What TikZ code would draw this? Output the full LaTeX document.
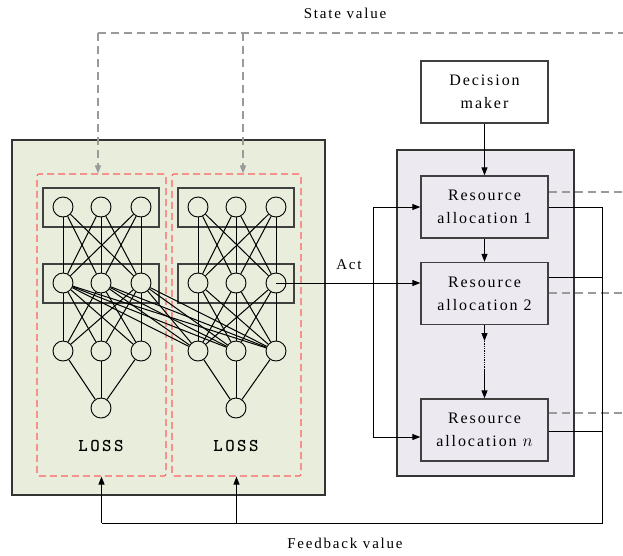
\documentclass[tikz,border=0pt]{standalone}
\usepackage{fontspec}
\setmainfont{Liberation Serif}[LetterSpace=12]
\newfontfamily\lossfont{lmmonolt10-bold}[Extension=.otf, LetterSpace=14]
\usepackage{tikz}
\usetikzlibrary{arrows, arrows.meta}

\definecolor{netgreen}{HTML}{E8EDDC}
\definecolor{allocpurple}{HTML}{ECE9F1}
\definecolor{lossred}{HTML}{FF6262}
\definecolor{stategray}{HTML}{9A9A9A}

\begin{document}
\begin{tikzpicture}[x=1pt, y=-1pt, >={Triangle[length=8pt, width=6pt]}]
\tikzstyle{neuron}=[circle, draw, minimum size=20pt, inner sep=0pt, line width=0.9pt]
\tikzstyle{layer}=[draw=black!75, line width=1.3pt]
\tikzstyle{panel}=[draw=black!80, line width=1.3pt]
\tikzstyle{frame}=[draw=lossred, dash pattern=on 7pt off 4pt, line width=1.1pt, rounded corners=2pt, minimum width=129pt, minimum height=302pt]
\tikzstyle{block}=[draw=black!75, line width=1.3pt, minimum width=127pt, minimum height=62pt, align=center, font=\fontsize{16}{23}\selectfont]
\tikzstyle{link}=[line width=1pt]
\tikzstyle{state}=[draw=stategray, dash pattern=on 8pt off 5pt, line width=1.3pt]
\tikzstyle{caption}=[font=\fontsize{15}{18}\selectfont]
\tikzstyle{losstext}=[font=\lossfont\fontsize{18}{20}\selectfont]

\useasboundingbox (0,0) rectangle (623,555);

% panels
\draw[panel, fill=netgreen] (12,140) rectangle (325,495);
\draw[panel, fill=allocpurple] (397,150) rectangle (574,476);

% first network
\begin{scope}[name prefix=l-]
\node[frame] (frame) at (101.5,325) {};
\draw[layer] (43,188) rectangle (159,227);
\draw[layer] (43,264) rectangle (159,303);
\node[neuron] (i1) at (63,207) {};
\node[neuron] (i2) at (101,207) {};
\node[neuron] (i3) at (141,207) {};
\node[neuron] (h1) at (63,283) {};
\node[neuron] (h2) at (101,283) {};
\node[neuron] (h3) at (141,283) {};
\node[neuron] (o1) at (63,351) {};
\node[neuron] (o2) at (101,351) {};
\node[neuron] (o3) at (141,351) {};
\node[neuron] (out) at (101,408) {};
\node[losstext] (loss) at (101,446) {LOSS};
\foreach \a in {1,2,3}
  \foreach \b in {1,2,3}
    \path (i\a) edge[link] (h\b)
          (h\a) edge[link] (o\b);
\path
(o1) edge[link] (out)
(o2) edge[link] (out)
(o3) edge[link] (out);
\end{scope}

% second network
\begin{scope}[xshift=135, name prefix=r-]
\node[frame] (frame) at (101.5,325) {};
\draw[layer] (43,188) rectangle (159,227);
\draw[layer] (43,264) rectangle (159,303);
\node[neuron] (i1) at (63,207) {};
\node[neuron] (i2) at (101,207) {};
\node[neuron] (i3) at (141,207) {};
\node[neuron] (h1) at (63,283) {};
\node[neuron] (h2) at (101,283) {};
\node[neuron] (h3) at (141,283) {};
\node[neuron] (o1) at (63,351) {};
\node[neuron] (o2) at (101,351) {};
\node[neuron] (o3) at (141,351) {};
\node[neuron] (out) at (101,408) {};
\node[losstext] (loss) at (101,446) {LOSS};
\foreach \a in {1,2,3}
  \foreach \b in {1,2,3}
    \path (i\a) edge[link] (h\b)
          (h\a) edge[link] (o\b);
\path
(o1) edge[link] (out)
(o2) edge[link] (out)
(o3) edge[link] (out);
\end{scope}

% hidden layer of the first net feeds the second
\foreach \a in {1,2,3}
  \foreach \b in {1,2,3}
    \draw[link] (l-h\a) -- (r-o\b);

% allocation chain
\node[block, fill=white] (dm) at (484.5,92) {Decision\\maker};
\node[block, fill=allocpurple] (ra1) at (484.5,207) {Resource\\allocation 1};
\node[block, fill=allocpurple] (ra2) at (484.5,293.5) {Resource\\allocation 2};
\node[block, fill=allocpurple] (ran) at (484.5,430) {Resource\\allocation $n$};
\coordinate (d1) at (484.5,341);
\coordinate (d2) at (484.5,370);
\draw[link,->] (dm) -- (ra1);
\draw[link,->] (ra1) -- (ra2);
\draw[link,->] (ra2) -- (d1);
\draw[line width=1.3pt, densely dotted] (d1) -- (d2);
\draw[link,->] (d2) -- (ran);

% act
\coordinate (top) at (373,207);
\coordinate (bot) at (373,437);
\node[caption] (act) at (349,265) {Act};
\draw[link,->] (r-h3.center) -- (r-h3.center -| ra2.west);
\draw[link,->] (top) -- (ra1.west);
\draw[link,->] (top) -- (bot) -- (bot -| ran.west);

% state value
\coordinate (s1) at (98,33);
\coordinate (s2) at (243,33);
\coordinate (sv) at (623,33);
\node[caption] (state) at (345,13) {State value};
\draw[state] (s1) -- (sv);
\draw[state,->] (s1) -- (s1 |- l-frame.north);
\draw[state,->] (s2) -- (s2 |- r-frame.north);
\draw[state] (ra1.east |- 0,192) -- (623,192);
\draw[state] (ra2.east |- 0,293) -- (623,293);
\draw[state] (ran.east |- 0,413) -- (623,413);

% feedback value
\coordinate (fb) at (602,523);
\node[caption] (feedback) at (345,543) {Feedback value};
\draw[link] (ra1.east) -- (ra1.east -| fb) -- (fb) -- (fb -| l-frame.south);
\draw[link] (ra2.east |- 0,277) -- (fb |- 0,277);
\draw[link] (ran.east |- 0,431) -- (fb |- 0,431);
\draw[link,->] (fb -| l-frame.south) -- (l-frame.south);
\draw[link,->] (fb -| r-frame.south) -- (r-frame.south);

\end{tikzpicture}
\end{document}
